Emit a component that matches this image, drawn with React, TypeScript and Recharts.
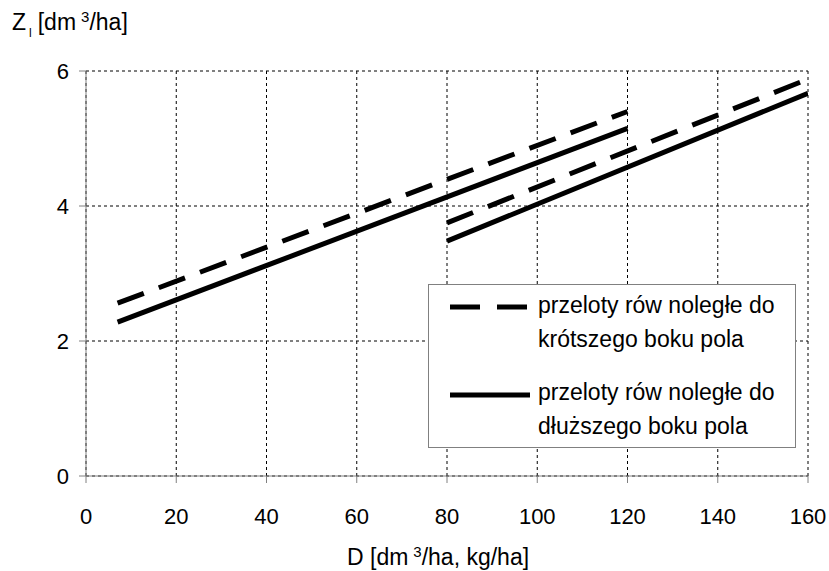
import { LineChart, Line, XAxis, YAxis, CartesianGrid } from 'recharts'

// two line pairs, each [start, end]
const shortSideLow = [
  { x: 7, y: 2.56 },
  { x: 120, y: 5.4 },
]
const longSideLow = [
  { x: 7, y: 2.28 },
  { x: 120, y: 5.15 },
]
const shortSideHigh = [
  { x: 80, y: 3.75 },
  { x: 160, y: 5.88 },
]
const longSideHigh = [
  { x: 80, y: 3.48 },
  { x: 160, y: 5.67 },
]

const xTicks = [0, 20, 40, 60, 80, 100, 120, 140, 160]
const yTicks = [0, 2, 4, 6]

const legendLines = [
  { dash: '30 17', text: ['przeloty rów noległe do', 'krótszego boku pola'] },
  { dash: undefined, text: ['przeloty rów noległe do', 'dłuższego boku pola'] },
]

const font = 'Liberation Sans, Arial, sans-serif'
const tickStyle = { fill: '#000', fontSize: 22, fontFamily: font }

const App = () => {
  return (
    <div style={{ position: 'absolute', left: 0, top: 0, width: 829, height: 571, background: '#fff', fontFamily: font }}>
      <LineChart
        width={829}
        height={571}
        margin={{ top: 71, right: 21, bottom: 50, left: 46 }}
      >
        <CartesianGrid stroke="#000" strokeDasharray="3 3" />
        <XAxis
          dataKey="x"
          type="number"
          domain={[0, 160]}
          ticks={xTicks}
          height={45}
          stroke="#808080"
          tickSize={7}
          tickMargin={25}
          tick={tickStyle}
          allowDataOverflow
        />
        <YAxis
          type="number"
          domain={[0, 6]}
          ticks={yTicks}
          width={40}
          stroke="#808080"
          tickSize={7}
          tickMargin={10}
          tick={tickStyle}
        />
        <Line data={shortSideLow} dataKey="y" stroke="#000" strokeWidth={5} strokeDasharray="28 16" dot={false} isAnimationActive={false} />
        <Line data={longSideLow} dataKey="y" stroke="#000" strokeWidth={5} dot={false} isAnimationActive={false} />
        <Line data={shortSideHigh} dataKey="y" stroke="#000" strokeWidth={5} strokeDasharray="28 16" dot={false} isAnimationActive={false} />
        <Line data={longSideHigh} dataKey="y" stroke="#000" strokeWidth={5} dot={false} isAnimationActive={false} />
      </LineChart>

      {/* axis titles and legend drawn on top */}
      <svg width={829} height={571} style={{ position: 'absolute', left: 0, top: 0, pointerEvents: 'none' }} fontFamily={font}>
        <text x={12} y={30} fontSize={23} fill="#000">
          Z<tspan fontSize={12} dx={3} dy={7}>l</tspan>
          <tspan fontSize={23} dx={6} dy={-7}>[dm</tspan>
          <tspan fontSize={15} dx={5} dy={-8}>3</tspan>
          <tspan fontSize={23} dy={8}>/ha]</tspan>
        </text>
        <text x={347} y={565} fontSize={23} fill="#000">
          D [dm<tspan fontSize={15} dx={5} dy={-8}>3</tspan>
          <tspan fontSize={23} dy={8}>/ha, kg/ha]</tspan>
        </text>

        <rect x={428.5} y={284.5} width={367} height={163} fill="#fff" stroke="#808080" />
        {legendLines.map((item, i) => (
          <g key={i}>
            <line
              x1={450}
              y1={307 + i * 88}
              x2={i === 0 ? 527 : 530}
              y2={307 + i * 88}
              stroke="#000"
              strokeWidth={5}
              strokeDasharray={item.dash}
            />
            {item.text.map((t, j) => (
              <text key={j} x={538} y={313 + i * 87 + j * 34} fontSize={23} fill="#000">
                {t}
              </text>
            ))}
          </g>
        ))}
      </svg>
    </div>
  )
}

export default App
